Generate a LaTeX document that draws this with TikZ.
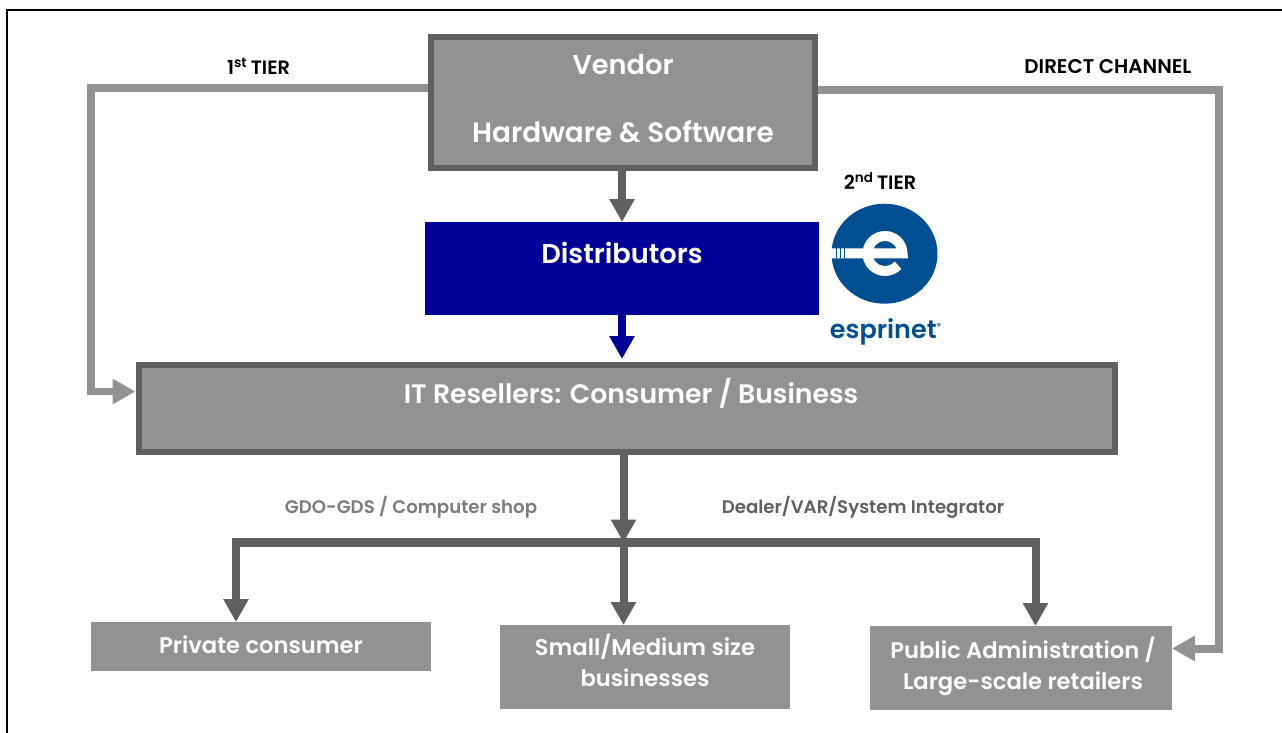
\documentclass[tikz,border=0pt]{standalone}
\usepackage{fontspec}
\setmainfont{Poppins SemiBold}
\usetikzlibrary{arrows.meta}
\definecolor{boxgray}{HTML}{929292}
\definecolor{edgegray}{HTML}{606060}
\definecolor{distblue}{HTML}{000099}
\definecolor{logoblue}{HTML}{004F93}
\tikzset{
	framedbox/.style={draw=edgegray,fill=boxgray,line width=0.12cm,inner sep=0pt},
	plainbox/.style={fill=boxgray,inner sep=0pt,outer sep=0pt},
	whitetext/.style={text=white,align=center,font=\fontsize{15.5}{19}\selectfont,inner sep=0pt},
	leaftext/.style={whitetext,font=\fontsize{12.9}{17.5}\selectfont},
	tiertext/.style={text=black,font=\fontsize{11}{13}\selectfont,inner sep=0pt},
	shoptext/.style={font=\fontsize{10.35}{13}\selectfont,inner sep=0pt},
	lighttip/.style={line width=0.16cm,boxgray,-{Triangle[length=0.46cm,width=0.48cm]}},
	darktip/.style={line width=0.16cm,edgegray,-{Triangle[length=0.46cm,width=0.48cm]}},
}
\begin{document}
\begin{tikzpicture}[x=0.02cm,y=-0.02cm]
	\useasboundingbox (0,0) rectangle (1282,733);
	\draw[black,line width=0.04cm] (7,733) -- (7,10) -- (1282,10);

	\node[framedbox,minimum width=7.68cm,minimum height=2.64cm] (vendor) at (623,102.5) {};
	\node[fill=distblue,inner sep=0pt,outer sep=0pt,minimum width=7.88cm,minimum height=1.86cm] (distributors) at (622,268.5) {};
	\node[framedbox,minimum width=19.54cm,minimum height=1.74cm] (resellers) at (627,408.5) {};
	\node[plainbox,minimum width=6.8cm,minimum height=0.98cm] (consumer) at (261,646.5) {};
	\node[plainbox,minimum width=5.8cm,minimum height=1.68cm] (smallbiz) at (645,667) {};
	\node[plainbox,minimum width=6.04cm,minimum height=1.68cm] (publicadm) at (1021,668) {};

	\node[whitetext] (vendorname) at (623,65) {Vendor};
	\node[whitetext,font=\fontsize{15.9}{19}\selectfont] (vendorkind) at (623,132) {Hardware \& Software};
	\node[whitetext] (distname) at (622,253) {Distributors};
	\node[whitetext,font=\fontsize{15.2}{19}\selectfont] (resname) at (631,393) {IT Resellers: Consumer / Business};
	\node[leaftext] (consumername) at (261,645) {Private consumer};
	\node[leaftext] (smallname) at (645,660.5) {Small/Medium size\\businesses};
	\node[leaftext] (publicname) at (1023,666.5) {Public Administration /\\Large-scale retailers};

	\node[tiertext] (firsttier) at (258.5,66) {1\textsuperscript{st}\,TIER};
	\node[tiertext] (secondtier) at (880,181) {2\textsuperscript{nd}\,TIER};
	\node[tiertext,font=\fontsize{11.3}{13}\selectfont] (directlabel) at (1108,66.5) {DIRECT CHANNEL};
	\node[shoptext,text=boxgray!85!black] (gdolabel) at (411,507.5) {GDO-GDS / Computer shop};
	\node[shoptext,text=edgegray] (dealerlabel) at (863,507.5) {Dealer/VAR/System Integrator};

	% tiers
	\coordinate (firstup) at (91,88);
	\coordinate (firstdown) at (91,391.5);
	\coordinate (directup) at (1219,90);
	\coordinate (directdown) at (1219,648.5);
	\draw[lighttip] (firstup -| vendor.west) -- (firstup) -- (firstdown) -- (firstdown -| resellers.west);
	\draw[lighttip] (directup -| vendor.east) -- (directup) -- (directdown) -- (directdown -| publicadm.east);
	\draw[darktip] (vendor.south -| distributors.north) -- (distributors.north);
	\draw[lighttip,distblue,shorten >=0.06cm] (distributors.south) -- (distributors.south |- resellers.north);

	% bus below the resellers
	\coordinate (busleft) at (236,542.5);
	\coordinate (busmid) at (623.5,542.5);
	\coordinate (busright) at (1035.5,542.5);
	\draw[darktip] (busmid |- resellers.south) -- (busmid);
	\draw[edgegray,line width=0.18cm,line cap=rect] (busleft) -- (busright);
	\draw[darktip] (busleft) -- (busleft |- consumer.north);
	\draw[darktip] (busmid) -- (busmid |- smallbiz.north);
	\draw[darktip] (busright) -- (busright |- publicadm.north);

	% logo
	\fill[logoblue] (884.5,253.7) ellipse[x radius=53,y radius=50];
	\begin{scope}[shift={(885,253.5)},x=0.02cm,y=0.02cm]
		\draw[white,line width=0.2cm] (-54,0) -- (17.5,0) arc[start angle=0,end angle=318,radius=0.35cm];
		\foreach \stripe in {-49,-45,-41}
			\fill[logoblue] (\stripe,-5) rectangle ++(1.3,10);
	\end{scope}
	\node[text=logoblue,inner sep=0pt,font=\fontsize{14.5}{18}\selectfont] (logoname) at (886,332) {esprinet\textsuperscript{\tiny ®}};
\end{tikzpicture}
\end{document}
